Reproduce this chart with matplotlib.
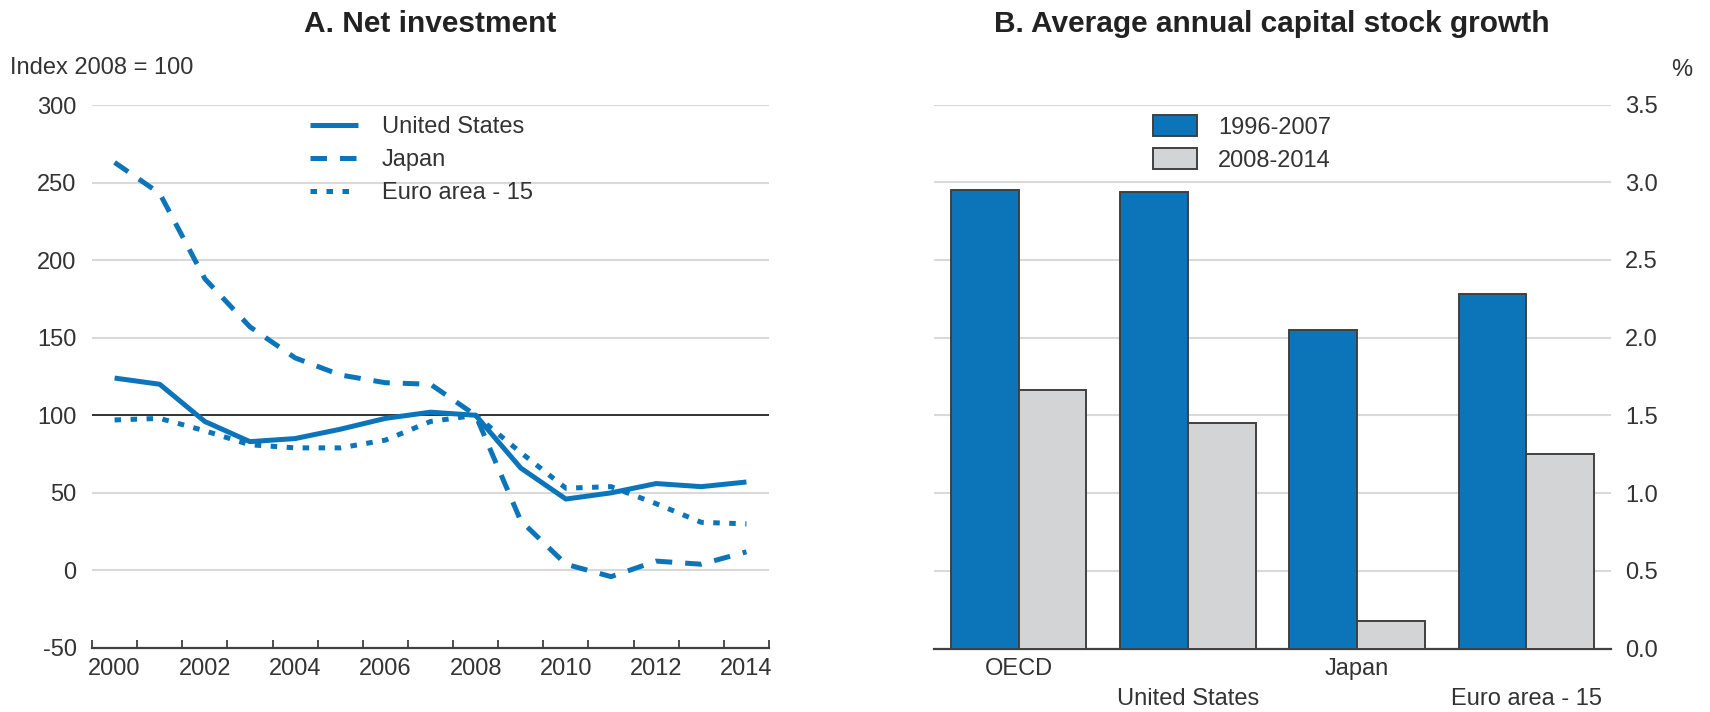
import matplotlib
matplotlib.use('Agg')
import matplotlib.pyplot as plt
import numpy as np
from matplotlib.ticker import FixedLocator, FormatStrFormatter

plt.rcParams['font.family'] = ['Liberation Sans', 'DejaVu Sans']
plt.rcParams['axes.unicode_minus'] = False

# Panel A: net investment, index 2008 = 100
years = list(range(2000, 2015))
united_states = [124, 120, 96, 83, 85, 91, 98, 102, 100, 66, 46, 50, 56, 54, 57]
japan = [263, 243, 188, 157, 137, 126, 121, 120, 100, 32, 4, -4, 6, 4, 12]
euro_area = [97, 98, 90, 81, 79, 79, 84, 96, 100, 76, 53, 54, 43, 31, 30]

# Panel B: average annual capital stock growth, %
regions = ['OECD', 'United States', 'Japan', 'Euro area - 15']
growth_1996_2007 = [2.95, 2.94, 2.05, 2.28]
growth_2008_2014 = [1.66, 1.45, 0.18, 1.25]

blue = '#0C75BA'
light_grey = '#D3D4D6'
grid_col = '#D9D9D9'
text_col = '#333333'
fs = 17

W, H = 1710, 712
fig = plt.figure(figsize=(W / 100, H / 100), dpi=100)


def px_rect(x0, y0, x1, y1):
    return [x0 / W, 1 - y1 / H, (x1 - x0) / W, (y1 - y0) / H]


# ---------- Panel A ----------
ax1 = fig.add_axes(px_rect(92, 105, 769, 648))
for s in ['top', 'left', 'right']:
    ax1.spines[s].set_visible(False)
ax1.spines['bottom'].set_color('#404040')
ax1.spines['bottom'].set_linewidth(1.6)

ax1.set_xlim(1999.5, 2014.5)
ax1.set_ylim(-50, 300)
yt = list(range(-50, 301, 50))
ax1.set_yticks(yt)
for v in yt:
    if v in (-50, 100):
        continue
    ax1.axhline(v, color=grid_col, lw=1.5, zorder=0)
ax1.axhline(100, color='#222222', lw=1.3, zorder=1)

ax1.plot(years, united_states, color=blue, lw=3.6, solid_capstyle='butt',
         label='United States', zorder=3)
ax1.plot(years, japan, color=blue, lw=3.6, linestyle=(0, (3.3, 2.6)),
         dash_capstyle='butt', label='Japan', zorder=3)
ax1.plot(years, euro_area, color=blue, lw=3.6, linestyle=(0, (1.3, 1.9)),
         dash_capstyle='butt', label='Euro area - 15', zorder=3)

ax1.set_xticks(years[::2])
ax1.set_xticklabels([str(y) for y in years[::2]])
ax1.xaxis.set_minor_locator(FixedLocator(np.arange(1999.5, 2015, 1)))
ax1.tick_params(axis='x', which='major', length=0, pad=7, labelsize=fs,
                labelcolor=text_col)
ax1.tick_params(axis='x', which='minor', direction='in', length=5.5,
                width=1.3, color='#404040')
ax1.tick_params(axis='y', length=0, pad=11, labelsize=fs, labelcolor=text_col)

ax1.legend(loc='upper left', bbox_to_anchor=(310 / W, 1 - 116 / H),
           bbox_transform=fig.transFigure, frameon=False, fontsize=fs,
           handlelength=2.05, handletextpad=1.0, labelspacing=0.47,
           borderpad=0, borderaxespad=0, labelcolor=text_col)

fig.text(430.5 / W, 1 - 24 / H, 'A. Net investment', ha='center', va='center',
         fontsize=21.5, fontweight='bold', color='#222222')
fig.text(10 / W, 1 - 68 / H, 'Index 2008 = 100', ha='left', va='center',
         fontsize=fs, color=text_col)

# ---------- Panel B ----------
ax2 = fig.add_axes(px_rect(934, 104.5, 1611, 648.5))
for s in ['top', 'left', 'right']:
    ax2.spines[s].set_visible(False)
ax2.spines['bottom'].set_color('#404040')
ax2.spines['bottom'].set_linewidth(1.6)

x = np.arange(len(regions))
bw = 0.4
ax2.bar(x - bw / 2, growth_1996_2007, bw, color=blue, edgecolor='#404040',
        linewidth=1.4, label='1996-2007', zorder=3)
ax2.bar(x + bw / 2, growth_2008_2014, bw, color=light_grey, edgecolor='#404040',
        linewidth=1.4, label='2008-2014', zorder=3)

ax2.set_xlim(-0.5, len(regions) - 0.5)
ax2.set_ylim(0, 3.5)
yt2 = np.arange(0, 3.51, 0.5)
ax2.set_yticks(yt2)
for v in yt2[1:]:
    ax2.axhline(v, color=grid_col, lw=1.5, zorder=0)
ax2.yaxis.tick_right()
ax2.yaxis.set_major_formatter(FormatStrFormatter('%.1f'))
ax2.tick_params(axis='y', length=0, pad=10, labelsize=fs, labelcolor=text_col)

ax2.set_xticks(x)
ax2.set_xticklabels([r if i % 2 == 0 else '\n' + r for i, r in enumerate(regions)],
                    linespacing=1.45)
ax2.tick_params(axis='x', length=0, pad=7, labelsize=fs, labelcolor=text_col)

ax2.legend(loc='upper left', bbox_to_anchor=(1153 / W, 1 - 115 / H),
           bbox_transform=fig.transFigure, frameon=False, fontsize=fs,
           handlelength=1.85, handleheight=1.0, handletextpad=0.9,
           labelspacing=0.41, borderpad=0, borderaxespad=0,
           labelcolor=text_col)

fig.text(1272 / W, 1 - 24 / H, 'B. Average annual capital stock growth',
         ha='center', va='center', fontsize=21.5, fontweight='bold',
         color='#222222')
fig.text(1682 / W, 1 - 70 / H, '%', ha='center', va='center', fontsize=fs,
         color=text_col)

fig.savefig('out.png', dpi=100)
